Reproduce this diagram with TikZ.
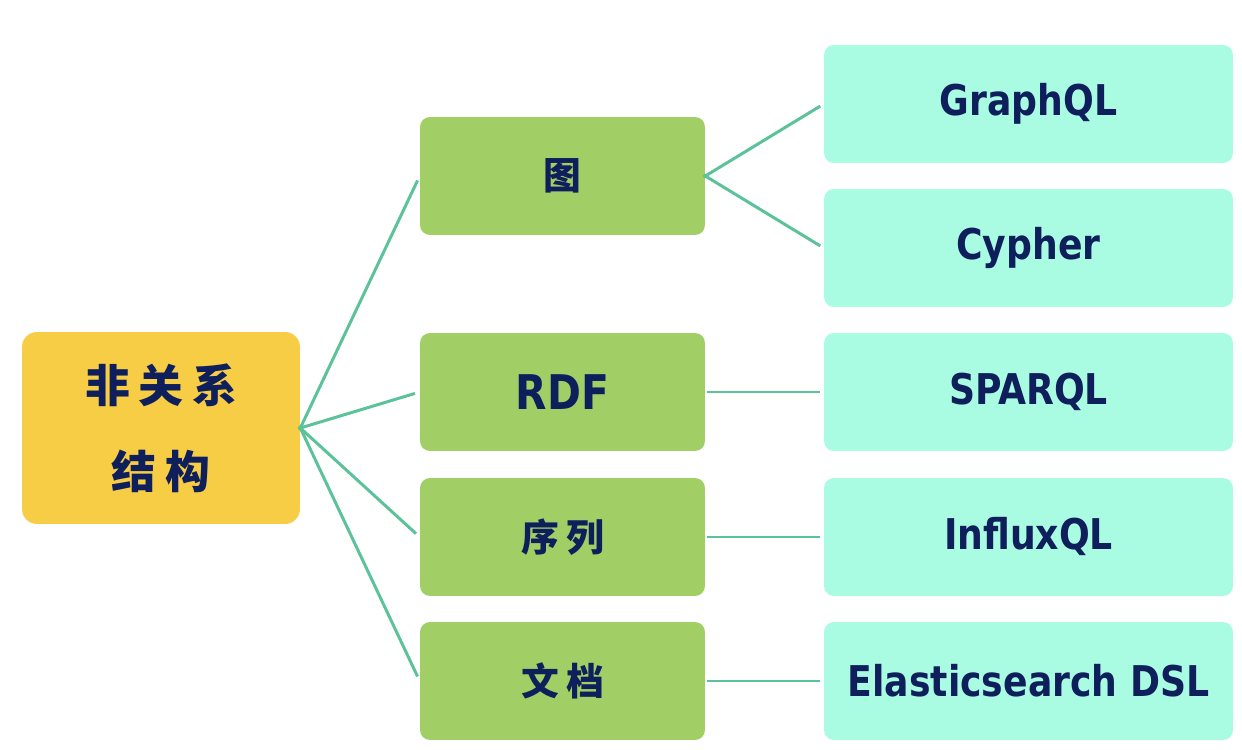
\documentclass[tikz,border=0pt]{standalone}
\usepackage{fontspec}
\setmainfont{DejaVu Sans Condensed}[FakeStretch=0.95]
\newfontfamily\cjk{Noto Sans CJK SC}[BoldFont={Noto Sans CJK SC Black}]
\definecolor{navy}{HTML}{0E1F5B}
\definecolor{rootyellow}{HTML}{F7CD46}
\definecolor{midgreen}{HTML}{A1CF65}
\definecolor{leafmint}{HTML}{A9FBE1}
\definecolor{linkgreen}{HTML}{5BC29A}
\tikzset{
  rootbox/.style={fill=rootyellow, rounded corners=0.3cm, minimum width=5.56cm, minimum height=3.84cm, inner sep=0pt, text=navy, align=center, font=\cjk\bfseries\fontsize{25.5}{49}\selectfont},
  midbox/.style={fill=midgreen, rounded corners=0.2cm, minimum width=5.7cm, minimum height=2.36cm, inner sep=0pt, text=navy},
  leafbox/.style={fill=leafmint, rounded corners=0.2cm, minimum width=8.18cm, minimum height=2.36cm, inner sep=0pt, text=navy, font=\bfseries\fontsize{24.1}{28}\selectfont},
  midcjk/.style={font=\cjk\bfseries\fontsize{21.5}{24}\selectfont},
  link/.style={draw=linkgreen, line width=1.7pt}
}
\newcommand{\gap}[1]{\hskip#1pt}
\begin{document}
\begin{tikzpicture}[x=0.02cm,y=-0.02cm]
    \useasboundingbox (0,0) rectangle (1242,750);
    % root
    \node[rootbox] (root) at (161,428) {非\gap{5}关\gap{5}系\\结\gap{5}构};
    % middle level
    \node[midbox,midcjk] (graph) at (562.5,176) {图};
    \node[midbox,font=\bfseries\fontsize{27.2}{30}\selectfont] (rdf) at (562.5,392) {RDF};
    \node[midbox,midcjk] (series) at (562.5,537) {序\gap{4}列};
    \node[midbox,midcjk] (doc) at (562.5,681) {文\gap{4}档};
    % query languages
    \node[leafbox] (graphql) at (1028.5,104) {GraphQL};
    \node[leafbox] (cypher) at (1028.5,248) {Cypher};
    \node[leafbox] (sparql) at (1028.5,392) {SPARQL};
    \node[leafbox] (influx) at (1028.5,537) {InfluxQL};
    \node[leafbox] (es) at (1028.5,681) {Elasticsearch DSL};
    \foreach \m in {graph,rdf,series,doc}
        \draw[link, shorten <=-0.04cm, shorten >=0.1cm] (root.east) -- (\m.west);
    \draw[link, shorten <=-0.04cm, shorten >=0.08cm] (graph.east) -- (graphql.west);
    \draw[link, shorten <=-0.04cm, shorten >=0.08cm] (graph.east) -- (cypher.west);
    \draw[link, shorten <=0.04cm, shorten >=0.08cm] (rdf.east) -- (sparql.west);
    \draw[link, shorten <=0.04cm, shorten >=0.08cm] (series.east) -- (influx.west);
    \draw[link, shorten <=0.04cm, shorten >=0.08cm] (doc.east) -- (es.west);
\end{tikzpicture}
\end{document}
